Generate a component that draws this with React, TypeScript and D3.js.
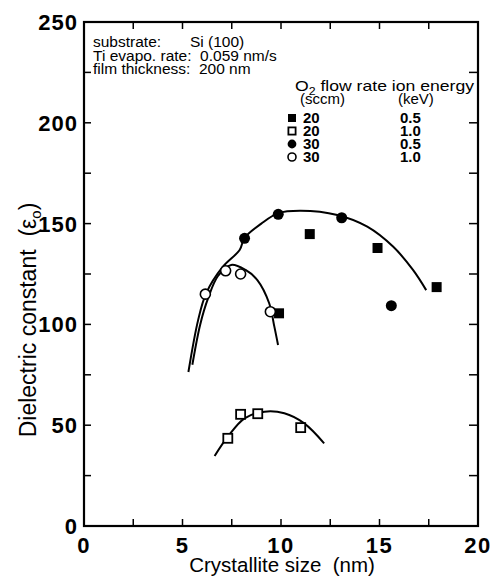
import React from "react";
import * as d3 from "d3";

const xTicks = [0, 5, 10, 15, 20];
const yTicks = [0, 50, 100, 150, 200, 250];

// series: filled square (20 sccm, 0.5 keV)
const sq20x = [9.9, 11.46, 14.9, 17.9];
const sq20y = [105.5, 144.8, 137.9, 118.5];
// open square (20 sccm, 1.0 keV)
const osq20x = [7.3, 7.95, 8.82, 11.0];
const osq20y = [43.5, 55.4, 55.7, 48.8];
// filled circle (30 sccm, 0.5 keV)
const ci30x = [8.15, 9.86, 13.08, 15.6];
const ci30y = [142.7, 154.6, 152.9, 109.3];
// open circle (30 sccm, 1.0 keV)
const oci30x = [6.16, 7.19, 7.95, 9.46];
const oci30y = [115, 126.6, 125, 106.3];

// fitted guide curves
const fitAx = [5.3, 5.79, 6.2, 7.05, 7.9, 8.15, 9.0, 9.86, 11.0, 12.86, 14.38, 15.7, 16.7, 17.37];
const fitAy = [76.4, 102, 115.4, 128.6, 136.9, 142.9, 150, 155.2, 156.4, 154.3, 148.5, 138.5, 127, 117];
const fitBx = [5.5, 5.9, 6.3, 6.8, 7.47, 8.2, 8.8, 9.4, 9.66, 9.85];
const fitBy = [80, 100, 113, 124, 129.5, 127, 122, 110.5, 99, 89.8];
const fitCx = [6.63, 7.3, 8.15, 9.16, 10.17, 11.18, 12.19];
const fitCy = [34.7, 44.3, 53.4, 56.7, 55.9, 50.9, 41];

const legendFlow = ["20", "20", "30", "30"];
const legendEnergy = ["0.5", "1.0", "0.5", "1.0"];
const legendKinds = ["fsq", "osq", "fci", "oci"];

const W = 494, H = 576;
const FONT = "'Liberation Sans', Arial, Helvetica, sans-serif";

export default function App() {
  const x = d3.scaleLinear().domain([0, 20]).range([84, 478]);
  const y = d3.scaleLinear().domain([0, 250]).range([526, 22]);
  const line = d3.line<[number, number]>().x(d => x(d[0])).y(d => y(d[1])).curve(d3.curveCatmullRom.alpha(0.5));
  const zip = (a: number[], b: number[]) => a.map((v, i) => [v, b[i]] as [number, number]);

  const minorY = d3.range(0, 251, 25);
  const minorX = d3.range(0, 20.01, 2.5);

  const marker = (kind: string, cx: number, cy: number, key: string, s = 1) => {
    if (kind === "fsq") return <rect key={key} x={cx - 5 * s} y={cy - 5 * s} width={10 * s} height={10 * s} fill="#000" />;
    if (kind === "osq") return <rect key={key} x={cx - 4.5 * s} y={cy - 4.5 * s} width={9 * s} height={9 * s} fill="#fff" stroke="#000" strokeWidth={1.8} />;
    if (kind === "fci") return <circle key={key} cx={cx} cy={cy} r={5.5 * s} fill="#000" />;
    return <circle key={key} cx={cx} cy={cy} r={5 * s} fill="#fff" stroke="#000" strokeWidth={1.6} />;
  };

  return (
    <svg width={W} height={H} style={{ position: "absolute", left: 0, top: 0, background: "#fff" }} fontFamily={FONT}>
      <rect x={0} y={0} width={W} height={H} fill="#fff" />
      {/* frame */}
      <rect x={x(0)} y={y(250)} width={x(20) - x(0)} height={y(0) - y(250)} fill="none" stroke="#000" strokeWidth={2.2} />
      {/* ticks */}
      {minorY.map(v => (
        <g key={"ty" + v}>
          <line x1={x(0)} x2={x(0) + 7} y1={y(v)} y2={y(v)} stroke="#000" strokeWidth={1.5} />
          <line x1={x(20)} x2={x(20) - 9} y1={y(v)} y2={y(v)} stroke="#000" strokeWidth={1.5} />
        </g>
      ))}
      {minorX.map(v => (
        <g key={"tx" + v}>
          <line x1={x(v)} x2={x(v)} y1={y(0)} y2={y(0) - 7} stroke="#000" strokeWidth={1.5} />
          <line x1={x(v)} x2={x(v)} y1={y(250)} y2={y(250) + 7} stroke="#000" strokeWidth={1.5} />
        </g>
      ))}
      {/* tick labels */}
      {yTicks.map(v => (
        <text key={"ly" + v} x={x(0) - 6} y={y(v) + 8} textAnchor="end" fontSize={22} fontWeight="bold" letterSpacing={1}>{v}</text>
      ))}
      {xTicks.map(v => (
        <text key={"lx" + v} x={x(v)} y={553} textAnchor="middle" fontSize={22} fontWeight="bold" letterSpacing={1.5}>{v}</text>
      ))}
      {/* axis titles */}
      <text x={282} y={572} textAnchor="middle" fontSize={20.5} style={{ whiteSpace: "pre" }}>Crystallite size  (nm)</text>
      <text transform={`translate(36,320) rotate(-90)`} textAnchor="middle" fontSize={23} style={{ whiteSpace: "pre" }}>
        Dielectric constant  (ε<tspan fontSize={15} dy={5}>o</tspan><tspan dy={-5}>)</tspan>
      </text>
      {/* info text */}
      <g fontSize={15.5}>
        <text x={93} y={47}>substrate:</text>
        <text x={190} y={47}>Si (100)</text>
        <text x={93} y={60.5} style={{ whiteSpace: "pre" }}>Ti evapo. rate:  0.059 nm/s</text>
        <text x={93} y={74} style={{ whiteSpace: "pre" }}>film thickness:  200 nm</text>
      </g>
      {/* legend */}
      <g fontSize={15}>
        <text x={295} y={91} textLength={179} lengthAdjust="spacingAndGlyphs">O<tspan fontSize={10.5} dy={4}>2</tspan><tspan dy={-4}> flow rate ion energy</tspan></text>
        <text x={300} y={104}>(sccm)</text>
        <text x={398} y={104}>(keV)</text>
        {legendKinds.map((k, i) => (
          <g key={"lg" + i}>
            {marker(k, 292, 118 + i * 13, "lm" + i, 0.8)}
            <text x={303} y={123 + i * 13} fontWeight="bold">{legendFlow[i]}</text>
            <text x={400} y={123 + i * 13} fontWeight="bold">{legendEnergy[i]}</text>
          </g>
        ))}
      </g>
      {/* curves */}
      <path d={line(zip(fitAx, fitAy)) || ""} fill="none" stroke="#000" strokeWidth={2} />
      <path d={line(zip(fitBx, fitBy)) || ""} fill="none" stroke="#000" strokeWidth={2} />
      <path d={line(zip(fitCx, fitCy)) || ""} fill="none" stroke="#000" strokeWidth={2} />
      {/* points */}
      {sq20x.map((v, i) => marker("fsq", x(v), y(sq20y[i]), "a" + i))}
      {osq20x.map((v, i) => marker("osq", x(v), y(osq20y[i]), "b" + i))}
      {ci30x.map((v, i) => marker("fci", x(v), y(ci30y[i]), "c" + i))}
      {oci30x.map((v, i) => marker("oci", x(v), y(oci30y[i]), "d" + i))}
    </svg>
  );
}
